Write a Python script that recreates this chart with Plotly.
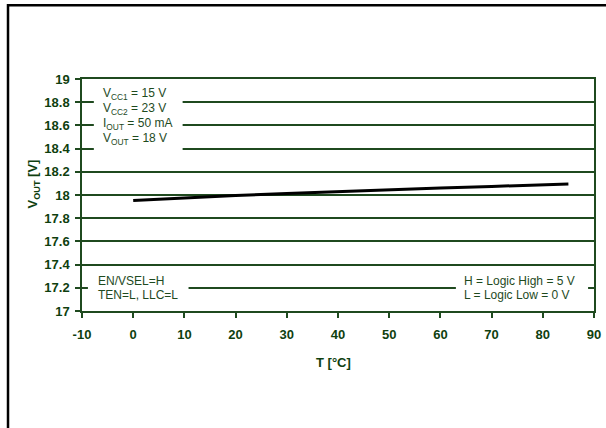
import plotly.graph_objects as go

# Data
temp_c = [0, 10, 20, 30, 40, 50, 60, 70, 80, 85]
vout_v = [17.953, 17.975, 17.995, 18.012, 18.030, 18.045, 18.060, 18.074, 18.088, 18.095]

x_ticks = [-10, 0, 10, 20, 30, 40, 50, 60, 70, 80, 90]
y_ticks = [17, 17.2, 17.4, 17.6, 17.8, 18, 18.2, 18.4, 18.6, 18.8, 19]

cond_top = ["V<sub>CC1</sub> = 15 V", "V<sub>CC2</sub> = 23 V",
            "I<sub>OUT</sub> = 50 mA", "V<sub>OUT</sub> = 18 V"]
cond_bl = ["EN/VSEL=H", "TEN=L, LLC=L"]
cond_br = ["H = Logic High = 5 V", "L = Logic Low = 0 V"]

GREEN = "#0f3f0f"
GRID = "#1f4a1f"
TXT = "#1e4a1e"
FONT = "Liberation Sans, Arial, sans-serif"

fig = go.Figure()
fig.add_trace(go.Scatter(x=temp_c, y=vout_v, mode="lines",
                         line=dict(color="black", width=3), showlegend=False,
                         hoverinfo="skip"))

W, H = 606, 428
ml, mr, mt, mb = 82, 5, 79, 116.5
pw, ph = W - ml - mr, H - mt - mb

def px(xpix):
    return (xpix - ml) / pw

def py(ypix):
    return (H - mb - ypix) / ph

fig.update_layout(
    width=W, height=H,
    margin=dict(l=ml, r=mr, t=mt, b=mb, pad=0),
    paper_bgcolor="white", plot_bgcolor="white",
    font=dict(family=FONT, color=GREEN),
    xaxis=dict(range=[-10, 90], tickvals=x_ticks, ticktext=[str(v) for v in x_ticks],
               showgrid=False, zeroline=False, showline=True, linecolor=GRID,
               linewidth=1.5, mirror=True, ticks="outside", ticklen=5,
               tickcolor=GRID, tickwidth=1.5, ticklabelstandoff=6,
               ticklabeloverflow="allow",
               tickfont=dict(family=FONT, size=13, color=GREEN, weight="bold")),
    yaxis=dict(range=[17, 19], tickvals=y_ticks,
               ticktext=[f"{v:g}" for v in y_ticks],
               showgrid=True, gridcolor=GRID, gridwidth=1.5, zeroline=False,
               showline=True, linecolor=GRID, linewidth=1.5, mirror=True,
               ticks="outside", ticklen=5, tickcolor=GRID, tickwidth=1.5,
               ticklabelstandoff=3,
               tickfont=dict(family=FONT, size=13, color=GREEN, weight="bold")),
)

shapes = []
# outer black frame (extends past right/bottom edges)
shapes.append(dict(type="rect", xref="paper", yref="paper",
                   x0=px(7), x1=px(W + 20), y0=py(H + 20), y1=py(5),
                   line=dict(color="black", width=2.5), fillcolor="rgba(0,0,0,0)",
                   layer="below"))
# white backgrounds behind condition texts (interrupt gridlines)
for (xa, xb, ya, yb) in [(94, 184, 84, 152), (88, 190, 272, 304), (461, 595, 272, 304)]:
    shapes.append(dict(type="rect", xref="paper", yref="paper",
                       x0=px(xa), x1=px(xb), y0=py(yb), y1=py(ya),
                       line=dict(width=0), fillcolor="white", layer="above"))
fig.update_layout(shapes=shapes)

ann = []
for i, t in enumerate(cond_top):
    ann.append(dict(x=px(101), y=py(94 + i * 15.2), xref="paper", yref="paper",
                    text=t, showarrow=False, xanchor="left", yanchor="middle",
                    font=dict(family=FONT, size=12, color=TXT)))
for i, t in enumerate(cond_bl):
    ann.append(dict(x=px(96), y=py(281 + i * 14.5), xref="paper", yref="paper",
                    text=t, showarrow=False, xanchor="left", yanchor="middle",
                    font=dict(family=FONT, size=12, color=TXT)))
for i, t in enumerate(cond_br):
    ann.append(dict(x=px(467), y=py(281 + i * 14.5), xref="paper", yref="paper",
                    text=t, showarrow=False, xanchor="left", yanchor="middle",
                    font=dict(family=FONT, size=12, color=TXT)))
# axis titles
ann.append(dict(x=px(337), y=py(363), xref="paper", yref="paper",
                text="T [°C]", showarrow=False, xanchor="center", yanchor="middle",
                font=dict(family=FONT, size=13, color=GREEN, weight="bold")))
ann.append(dict(x=px(33), y=py(184), xref="paper", yref="paper",
                text="V<sub>OUT</sub> [V]", showarrow=False, textangle=-90,
                xanchor="center", yanchor="middle",
                font=dict(family=FONT, size=13, color=GREEN, weight="bold")))
fig.update_layout(annotations=ann)

fig.write_html("out.html", config={"displayModeBar": False},
               post_script="document.body.style.margin='0px';document.body.style.overflow='hidden';")
